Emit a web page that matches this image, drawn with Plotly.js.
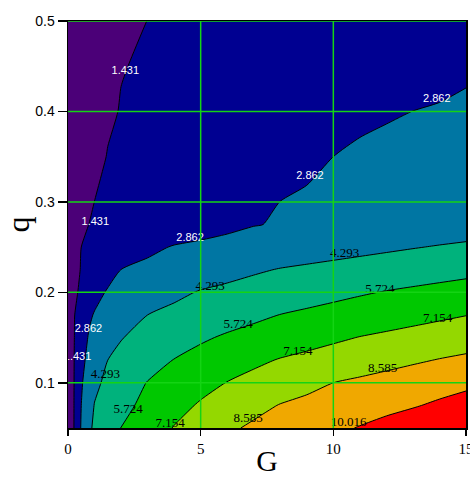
<!DOCTYPE html>
<html>
<head>
<meta charset="utf-8">
<script src="https://cdn.plot.ly/plotly-3.0.1.min.js"></script>
<style>
html,body{margin:0;padding:0;background:#fff;}
#chart{width:470px;height:477px;}
</style>
</head>
<body>
<div id="chart"></div>
<script>
// Grid of G (x) and q (y) values
const gValues = [0, 0.2, 0.5, 0.8, 1, 1.5, 2, 3, 4, 5, 6, 7, 8, 9, 10, 11, 12, 13, 14, 15];
const qValues = [0.05, 0.075, 0.1, 0.125, 0.15, 0.175, 0.2, 0.225, 0.25, 0.275, 0.3, 0.35, 0.4, 0.45, 0.5];

// z rows, one per q value (estimated from the contour positions in the picture)
const zQ050 = [0, 1.30, 2.975, 4.105, 4.485, 5.124, 5.746, 6.488, 7.212, 7.791, 8.371, 8.789, 9.112, 9.435, 9.758, 10.084, 10.426, 10.767, 11.109, 11.45];
const zQ075 = [0, 1.30, 2.862, 3.816, 4.342, 4.836, 5.329, 6.097, 6.719, 7.293, 7.756, 8.219, 8.639, 8.894, 9.149, 9.404, 9.659, 9.914, 10.224, 10.57];
const zQ100 = [0, 1.30, 2.724, 3.517, 4.002, 4.598, 5.000, 5.772, 6.248, 6.725, 7.189, 7.538, 7.887, 8.236, 8.585, 8.808, 9.031, 9.254, 9.477, 9.70];
const zQ125 = [0, 1.30, 2.544, 3.204, 3.515, 4.293, 4.591, 5.187, 5.762, 6.141, 6.521, 6.900, 7.232, 7.470, 7.707, 7.944, 8.181, 8.419, 8.642, 8.83];
const zQ150 = [0, 1.30, 2.302, 2.987, 3.196, 3.719, 4.241, 4.699, 5.126, 5.553, 5.883, 6.148, 6.413, 6.677, 6.942, 7.193, 7.387, 7.581, 7.776, 7.97];
const zQ175 = [0, 1.30, 2.038, 2.689, 2.943, 3.281, 3.618, 4.293, 4.585, 4.877, 5.169, 5.461, 5.744, 5.941, 6.138, 6.335, 6.532, 6.730, 6.927, 7.124];
const zQ200 = [0, 1.022, 1.756, 2.198, 2.493, 2.969, 3.182, 3.610, 4.037, 4.375, 4.579, 4.784, 4.988, 5.192, 5.397, 5.601, 5.786, 5.941, 6.096, 6.25];
const zQ225 = [0, 0.753, 1.539, 1.809, 1.989, 2.439, 2.870, 3.124, 3.378, 3.632, 3.886, 4.140, 4.351, 4.497, 4.642, 4.788, 4.933, 5.079, 5.224, 5.37];
const zQ250 = [0, 0.573, 1.431, 1.574, 1.670, 1.908, 2.147, 2.623, 2.934, 3.079, 3.223, 3.368, 3.512, 3.657, 3.801, 3.946, 4.091, 4.235, 4.371, 4.50];
const zQ275 = [0, 0.409, 1.022, 1.453, 1.497, 1.607, 1.718, 1.938, 2.158, 2.377, 2.598, 2.818, 2.942, 3.042, 3.141, 3.241, 3.341, 3.441, 3.540, 3.64];
const zQ300 = [0, 0.298, 0.745, 1.193, 1.439, 1.542, 1.644, 1.849, 2.053, 2.258, 2.463, 2.667, 2.867, 2.957, 3.048, 3.138, 3.229, 3.319, 3.410, 3.50];
const zQ350 = [0, 0.229, 0.572, 0.916, 1.145, 1.472, 1.554, 1.717, 1.881, 2.044, 2.208, 2.371, 2.535, 2.698, 2.862, 3.040, 3.160, 3.250, 3.330, 3.40];
const zQ400 = [0, 0.172, 0.431, 0.690, 0.862, 1.293, 1.474, 1.602, 1.729, 1.856, 1.984, 2.111, 2.238, 2.366, 2.493, 2.620, 2.747, 2.866, 2.908, 2.95];
const zQ450 = [0, 0.140, 0.349, 0.558, 0.698, 1.047, 1.396, 1.530, 1.634, 1.738, 1.842, 1.947, 2.051, 2.155, 2.259, 2.363, 2.467, 2.572, 2.676, 2.78];
const zQ500 = [0, 0.101, 0.252, 0.403, 0.504, 0.756, 1.008, 1.446, 1.543, 1.639, 1.735, 1.831, 1.927, 2.024, 2.120, 2.216, 2.312, 2.408, 2.504, 2.60];

// Contour levels: 1.431, 2.862, 4.293, 5.724, 7.154, 8.585, 10.016
const levelStep = 1.43089;
const levelCount = 7;

// Band colours, lowest to highest
const bandColors = ['#4b0078', '#000091', '#0076a3', '#00b27c', '#00c800', '#94d800', '#f0a800', '#ff0000'];

// Contour label placements (G, q) and the level number each one names
const labelG     = [2.16, 1.03, 0.36, 13.9, 9.12, 4.6, 0.77, 10.43, 5.36, 1.41, 11.75, 6.41, 2.27, 13.93, 8.66, 3.85, 11.86, 6.79, 10.58];
const labelQ     = [0.444, 0.277, 0.128, 0.413, 0.328, 0.26, 0.159, 0.2425, 0.206, 0.109, 0.2028, 0.164, 0.070, 0.171, 0.134, 0.055, 0.1155, 0.060, 0.056];
const labelLevel = [1, 1, 1, 2, 2, 2, 2, 3, 3, 3, 4, 4, 4, 5, 5, 5, 6, 6, 7];

// Axis ticks
const xTicks = [0, 5, 10, 15];
const yTicks = [0.1, 0.2, 0.3, 0.4, 0.5];

const zMatrix = [zQ050, zQ075, zQ100, zQ125, zQ150, zQ175, zQ200, zQ225, zQ250, zQ275, zQ300, zQ350, zQ400, zQ450, zQ500];

const colorscale = bandColors.map((c, i) => [i / (bandColors.length - 1), c]);

const fillTrace = {
  type: 'contour',
  x: gValues, y: qValues, z: zMatrix,
  autocontour: false,
  contours: {start: levelStep, end: levelStep * levelCount, size: levelStep, coloring: 'fill', showlines: true},
  colorscale: colorscale,
  line: {color: '#000', width: 1, smoothing: 0.6},
  showscale: false,
  hoverinfo: 'skip'
};

const serif = 'Liberation Serif, Times New Roman, serif';
const sans = 'Liberation Sans, Arial, sans-serif';

const labelTrace = {
  type: 'scatter',
  mode: 'text',
  x: labelG, y: labelQ,
  text: labelLevel.map(k => (k * levelStep).toFixed(3)),
  textposition: 'middle center',
  textfont: {
    family: labelLevel.map(k => k <= 2 ? sans : serif),
    size: labelLevel.map(k => k <= 2 ? 11 : 13),
    color: labelLevel.map(k => k <= 2 ? '#ffffff' : '#000000')
  },
  cliponaxis: true,
  hoverinfo: 'skip',
  showlegend: false
};

const xRange = [gValues[0], gValues[gValues.length - 1]];
const yRange = [qValues[0], qValues[qValues.length - 1]];

const gridColor = '#14d414';
const shapes = [];
xTicks.filter(v => v > xRange[0] && v < xRange[1]).forEach(v => {
  shapes.push({type: 'line', xref: 'x', yref: 'paper', x0: v, x1: v, y0: 0, y1: 1,
    line: {color: gridColor, width: 1.5}, layer: 'above'});
});
yTicks.forEach(v => {
  shapes.push({type: 'line', xref: 'paper', yref: 'y', x0: 0, x1: 1, y0: v, y1: v,
    line: {color: gridColor, width: 1.5}, layer: 'above'});
});

const layout = {
  width: 470, height: 477,
  margin: {l: 68, r: 4, t: 21, b: 49, pad: 0},
  paper_bgcolor: '#ffffff', plot_bgcolor: '#ffffff',
  showlegend: false,
  xaxis: {
    range: xRange, tickvals: xTicks, ticktext: xTicks.map(String),
    ticks: 'outside', ticklen: 6, tickwidth: 1.5, tickcolor: '#000',
    ticklabeloverflow: 'allow',
    showgrid: false, zeroline: false,
    showline: true, linecolor: '#000', linewidth: 1.5, mirror: true,
    tickfont: {family: serif, size: 15, color: '#000'},
    title: {text: 'G', font: {family: serif, size: 30, color: '#000'}, standoff: 6},
    layer: 'above traces'
  },
  yaxis: {
    range: yRange, tickvals: yTicks, ticktext: yTicks.map(String),
    ticks: 'outside', ticklen: 9, tickwidth: 1.5, tickcolor: '#000',
    showgrid: false, zeroline: false,
    showline: true, linecolor: '#000', linewidth: 1.5, mirror: true,
    tickfont: {family: sans, size: 14, color: '#000'},
    title: {text: 'q', font: {family: serif, size: 32, color: '#000'}, standoff: 6},
    layer: 'above traces'
  },
  shapes: shapes
};

Plotly.newPlot('chart', [fillTrace, labelTrace], layout, {displayModeBar: false, staticPlot: true});
</script>
</body>
</html>
